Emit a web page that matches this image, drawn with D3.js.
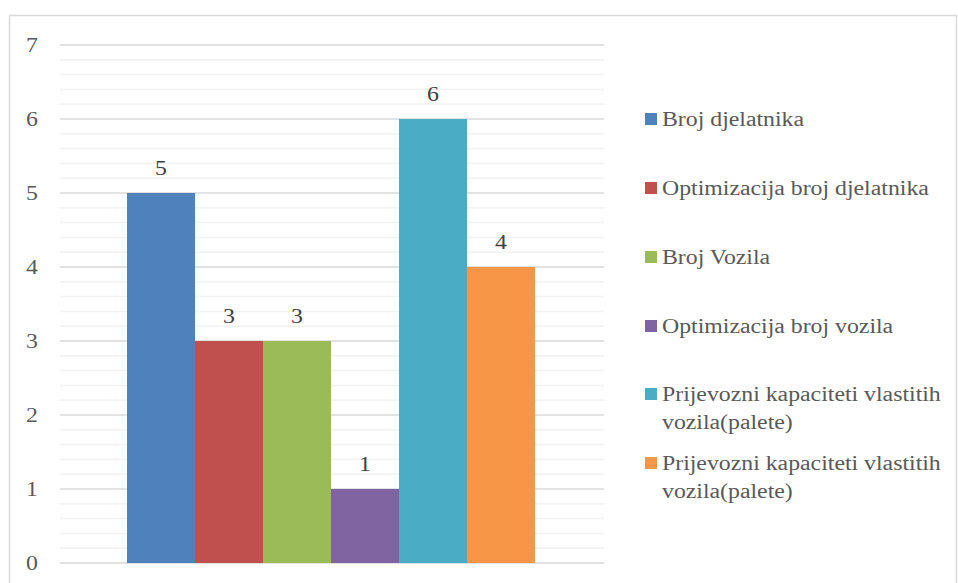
<!DOCTYPE html>
<html><head><meta charset="utf-8">
<script src="https://cdn.jsdelivr.net/npm/d3@7"></script>
<style>body{margin:0;background:#fff;}svg{display:block;}</style>
</head><body><svg id="c" width="958" height="583"></svg>
<script>
const seriesNames = ["Broj djelatnika","Optimizacija broj djelatnika","Broj Vozila","Optimizacija broj vozila","Prijevozni kapaciteti vlastitih vozila(palete)","Prijevozni kapaciteti vlastitih vozila(palete)"];
const seriesValues = [5,3,3,1,6,4];
const seriesColors = ["#4f81bd","#c0504d","#9bbb59","#8064a2","#4bacc6","#f79646"];
const yTicks = [0,1,2,3,4,5,6,7];
const legendLines = [["Broj djelatnika"],["Optimizacija broj djelatnika"],["Broj Vozila"],["Optimizacija broj vozila"],["Prijevozni kapaciteti vlastitih","vozila(palete)"],["Prijevozni kapaciteti vlastitih","vozila(palete)"]];
const FONT = "Liberation Serif";
const SX = 1.19; // horizontal stretch seen in the reference glyphs

const svg = d3.select("#c");
svg.append("rect").attr("x",9.5).attr("y",15.5).attr("width",947).attr("height",580).attr("fill","none").attr("stroke","#d9d9d9").attr("stroke-width",1.5);

const x0 = 60, x1 = 604;
const y = d3.scaleLinear().domain([0,7]).range([563,45]);
const minor = d3.range(0,7.0001,0.2).filter(v=>Math.abs(v-Math.round(v))>1e-6);
svg.append("g").selectAll("line").data(minor).join("line")
  .attr("x1",x0).attr("x2",x1).attr("y1",d=>y(d)).attr("y2",d=>y(d))
  .attr("stroke","#f2f2f2").attr("stroke-width",1.5);
svg.append("g").selectAll("line").data(yTicks).join("line")
  .attr("x1",x0).attr("x2",x1).attr("y1",d=>y(d)).attr("y2",d=>y(d))
  .attr("stroke","#d9d9d9").attr("stroke-width",1.5);
svg.append("g").selectAll("text").data(yTicks).join("text")
  .attr("transform",d=>`translate(32,${y(d)}) scale(${SX},1)`).attr("dy","0.35em").attr("text-anchor","middle")
  .attr("font-family",FONT).attr("fill","#595959").attr("font-size",20).text(d=>d);

const xb = d3.scaleBand().domain(d3.range(seriesValues.length)).range([127,535]).padding(0);
svg.append("g").selectAll("rect").data(seriesValues).join("rect")
  .attr("x",(d,i)=>xb(i)).attr("width",xb.bandwidth())
  .attr("y",d=>y(d)).attr("height",d=>y(0)-y(d))
  .attr("fill",(d,i)=>seriesColors[i]);
svg.append("g").selectAll("text").data(seriesValues).join("text")
  .attr("transform",(d,i)=>`translate(${xb(i)+xb.bandwidth()/2},${y(d)-25}) scale(${SX},1)`).attr("dy","0.35em")
  .attr("text-anchor","middle").attr("font-family",FONT).attr("fill","#404040").attr("font-size",20).text(d=>d);

const legY = [119,188,257,326,394,463];
const lg = svg.append("g");
seriesNames.forEach((n,i)=>{
  lg.append("rect").attr("x",645).attr("y",legY[i]-6).attr("width",12).attr("height",12).attr("fill",seriesColors[i]);
  legendLines[i].forEach((t,j)=>{
    lg.append("text").attr("transform",`translate(662,${legY[i]+j*28}) scale(${SX},1)`).attr("dy","0.35em")
      .attr("font-family",FONT).attr("fill","#595959").attr("font-size",20).text(t);
  });
});
</script></body></html>
